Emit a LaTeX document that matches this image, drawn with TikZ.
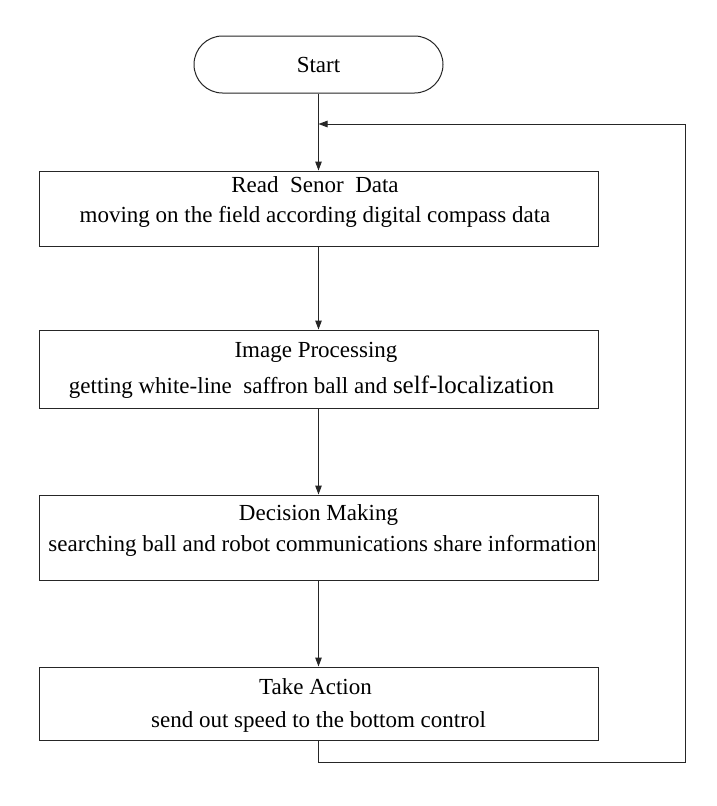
\documentclass[tikz,border=0pt]{standalone}
\usepackage{fontspec}
\setmainfont{Liberation Serif}
\usetikzlibrary{shapes.misc,arrows.meta}
\begin{document}
\begin{tikzpicture}[x=1pt,y=-1pt,
  ln/.style={draw=black!85, line width=1pt},
  arr/.style={ln, -{Triangle[length=9pt,width=6.5pt]}},
  startbox/.style={ln, rounded rectangle, minimum width=249pt, minimum height=57pt, inner sep=0pt, font=\fontsize{23}{27}\selectfont},
  stepbox/.style={ln, rectangle, minimum width=559pt, inner sep=0pt},
  txt/.style={inner sep=0pt, anchor=base, font=\fontsize{23}{27}\selectfont}]
\useasboundingbox (0,0) rectangle (716,806);
\fill[white] (0,0) rectangle (716,806);

\node[startbox] (start) at (318.5,64.5) {Start};

\node[stepbox, minimum height=75pt] (b1) at (318.5,208.5) {};
\node[stepbox, minimum height=78pt] (b2) at (318.5,369) {};
\node[stepbox, minimum height=85pt] (b3) at (318.5,537.5) {};
\node[stepbox, minimum height=73pt] (b4) at (318.5,703.5) {};

\node[txt] (t1a) at (315,192) {Read\ \ Senor\ \ Data};
\node[txt] (t1b) at (315,222) {moving on the field according digital compass data};
\node[txt] (t2a) at (316,357) {Image Processing};
\node[txt] (t2b) at (311.5,393) {getting white-line\ \ saffron ball and {\fontsize{25}{27}\selectfont self-localization}};
\node[txt] (t3a) at (318.5,520) {Decision Making};
\node[txt] (t3b) at (322.5,551) {searching ball and robot communications share information};
\node[txt] (t4a) at (315.5,694) {Take Action};
\node[txt] (t4b) at (318.5,727) {send out speed to the bottom control};

\coordinate (m) at (318.5,124);
\coordinate (c1) at (318.5,762);
\coordinate (c2) at (685,762);
\coordinate (c3) at (685,124);

\draw[arr] (start.south) -- (b1.north);
\draw[arr] (b1.south) -- (b2.north);
\draw[arr] (b2.south) -- (b3.north);
\draw[arr] (b3.south) -- (b4.north);
\draw[arr] (b4.south) -- (c1) -- (c2) -- (c3) -- (m);
\end{tikzpicture}
\end{document}
